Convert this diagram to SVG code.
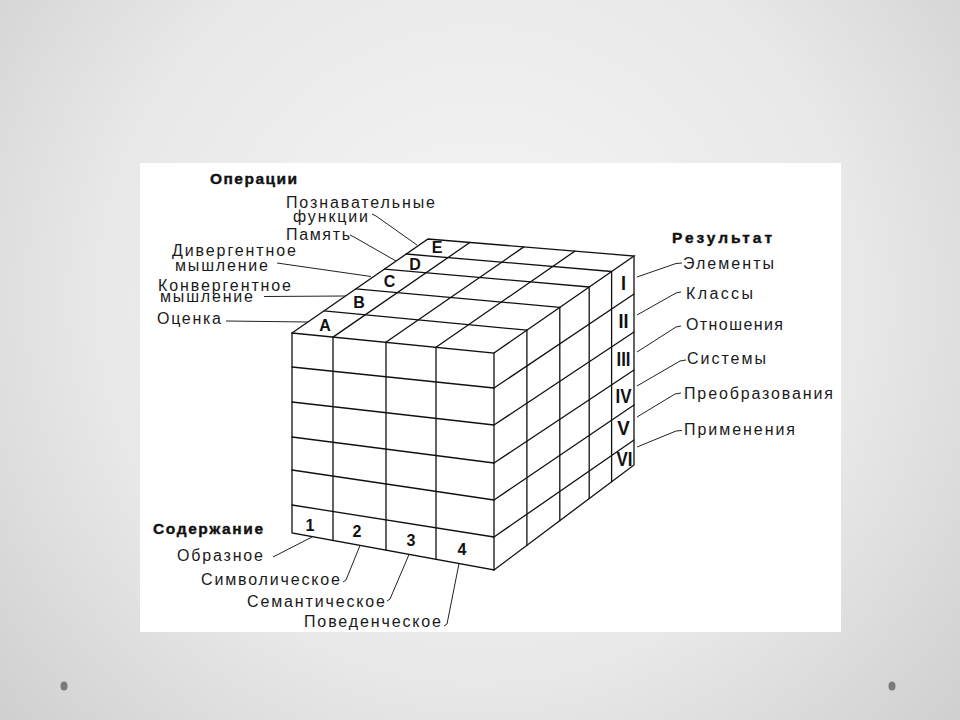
<svg xmlns="http://www.w3.org/2000/svg" width="960" height="720" viewBox="0 0 960 720">
<defs>
<radialGradient id="bg" cx="480" cy="300" r="640" gradientUnits="userSpaceOnUse">
<stop offset="0" stop-color="#f6f6f6"/>
<stop offset="0.6" stop-color="#e8e8e8"/>
<stop offset="1" stop-color="#cfcfcf"/>
</radialGradient>
<style>
.g{fill:none;stroke:#111;stroke-width:1.3;stroke-linecap:round}
.l{fill:none;stroke:#222;stroke-width:1}
.t{font-family:"Liberation Sans",Arial,sans-serif;font-size:16px;fill:#1a1a1a}
.b{font-family:"Liberation Sans",Arial,sans-serif;font-size:15.5px;font-weight:bold;fill:#111;stroke:#111;stroke-width:0.4}
.k{font-family:"Liberation Sans",Arial,sans-serif;font-size:16px;font-weight:bold;fill:#111;text-anchor:middle}
.r{font-family:"Liberation Sans",Arial,sans-serif;font-size:20px;font-weight:bold;fill:#111;text-anchor:middle}
</style>
</defs>
<rect x="0" y="0" width="960" height="720" fill="url(#bg)"/>
<rect x="140" y="163" width="701" height="469" fill="#ffffff"/>
<ellipse cx="64" cy="686" rx="3.5" ry="4.5" fill="#7a7a7a"/>
<ellipse cx="892" cy="686" rx="3.5" ry="4.5" fill="#7a7a7a"/>

<g id="cube">
<g id="front-face" class="g">
<path d="M292,333 L494,353 L494,570 L292,533 Z"/>
<path d="M292,367 L494,388 M292,402 L494,425 M292,437 L494,463 M292,470 L494,500 M292,505 L494,537"/>
<path d="M333,337.1 L333,540.5 M386,342.3 L386,550.2 M436,347.3 L436,559.4"/>
</g>
<g id="top-face" class="g">
<path d="M292,333 L428,239 L634,256 L494,353"/>
<path d="M333,337.1 L469.8,242.5 M385.9,342.3 L523.8,246.9 M436,347.3 L574.9,251.1"/>
<path d="M324,310.9 L526.9,330.2 M355.9,288.8 L559.8,307.4 M384.5,269.1 L589.2,287 M406.2,254 L611.6,271.5"/>
</g>
<g id="right-face" class="g">
<path d="M634,256 L634,465 L494,570"/>
<path d="M494,388 L634,294 M494,425 L634,332 M494,463 L634,370 M494,500 L634,405 M494,537 L634,440"/>
<path d="M526.9,330.2 L526.9,545.3 M559.8,307.4 L559.8,520.7 M589.2,287 L589.2,498.6 M611.6,271.5 L611.6,481.8"/>
</g>
</g>

<g id="connectors" class="l">
<path d="M372,214 L376,216 L417,245"/>
<path d="M350,235 L354,237 L396,261"/>
<path d="M277,263 L371,276.5"/>
<path d="M264,296.5 L345.5,296"/>
<path d="M226,321 L308,322"/>
<path d="M637,277 L676,263.5 L682,263"/>
<path d="M637,315 L676,293 L681,292"/>
<path d="M637,352 L676,327 L681,326"/>
<path d="M637,386 L680,361 L686,360"/>
<path d="M637,417 L675,394 L681,393"/>
<path d="M637,447 L676,431 L682,430.5"/>
<path d="M273,557 L312,537"/>
<path d="M343,582 L346,580 L360,545.5"/>
<path d="M387,601 L390,599 L409,554.5"/>
<path d="M444,626 L447,624 L459,563.5"/>
</g>

<g id="operations-labels">
<text class="b" x="210" y="184" textLength="87">Операции</text>
<text class="t" x="286" y="208" textLength="149">Познавательные</text>
<text class="t" x="293" y="222" textLength="75">функции</text>
<text class="t" x="286" y="240" textLength="64">Память</text>
<text class="t" x="172" y="255.5" textLength="124">Дивергентное</text>
<text class="t" x="175" y="270.5" textLength="93">мышление</text>
<text class="t" x="158" y="290.5" textLength="133">Конвергентное</text>
<text class="t" x="160" y="301.5" textLength="93">мышление</text>
<text class="t" x="157" y="324" textLength="64">Оценка</text>
</g>
<g id="operations-letters">
<text class="k" x="325" y="330.5">A</text>
<text class="k" x="359" y="307.5">B</text>
<text class="k" x="389.5" y="286.5">C</text>
<text class="k" x="415" y="269.5">D</text>
<text class="k" x="437" y="253">E</text>
</g>
<g id="result-labels">
<text class="b" x="672" y="242.5" textLength="100">Результат</text>
<text class="t" x="683" y="268.5" textLength="91">Элементы</text>
<text class="t" x="686" y="298.5" textLength="67">Классы</text>
<text class="t" x="686" y="330" textLength="97">Отношения</text>
<text class="t" x="687" y="364" textLength="79">Системы</text>
<text class="t" x="684" y="399" textLength="149">Преобразования</text>
<text class="t" x="684" y="435" textLength="111">Применения</text>
</g>
<g id="result-numerals">
<text class="r" x="623.5" y="289.5" textLength="5" lengthAdjust="spacingAndGlyphs">I</text>
<text class="r" x="623.5" y="327.5" textLength="10" lengthAdjust="spacingAndGlyphs">II</text>
<text class="r" x="623.5" y="365.5" textLength="14" lengthAdjust="spacingAndGlyphs">III</text>
<text class="r" x="623.5" y="402.5" textLength="16" lengthAdjust="spacingAndGlyphs">IV</text>
<text class="r" x="623.5" y="435" textLength="12.5" lengthAdjust="spacingAndGlyphs">V</text>
<text class="r" x="624.5" y="465.5" textLength="16" lengthAdjust="spacingAndGlyphs">VI</text>
</g>
<g id="content-labels">
<text class="b" x="153" y="533.5" textLength="110">Содержание</text>
<text class="t" x="177" y="560.5" textLength="86">Образное</text>
<text class="t" x="201" y="585" textLength="139">Символическое</text>
<text class="t" x="247" y="606.5" textLength="138">Семантическое</text>
<text class="t" x="304" y="626.5" textLength="137">Поведенческое</text>
</g>
<g id="content-digits">
<text class="k" x="310" y="531">1</text>
<text class="k" x="357" y="537">2</text>
<text class="k" x="411" y="546">3</text>
<text class="k" x="462" y="555">4</text>
</g>
</svg>
